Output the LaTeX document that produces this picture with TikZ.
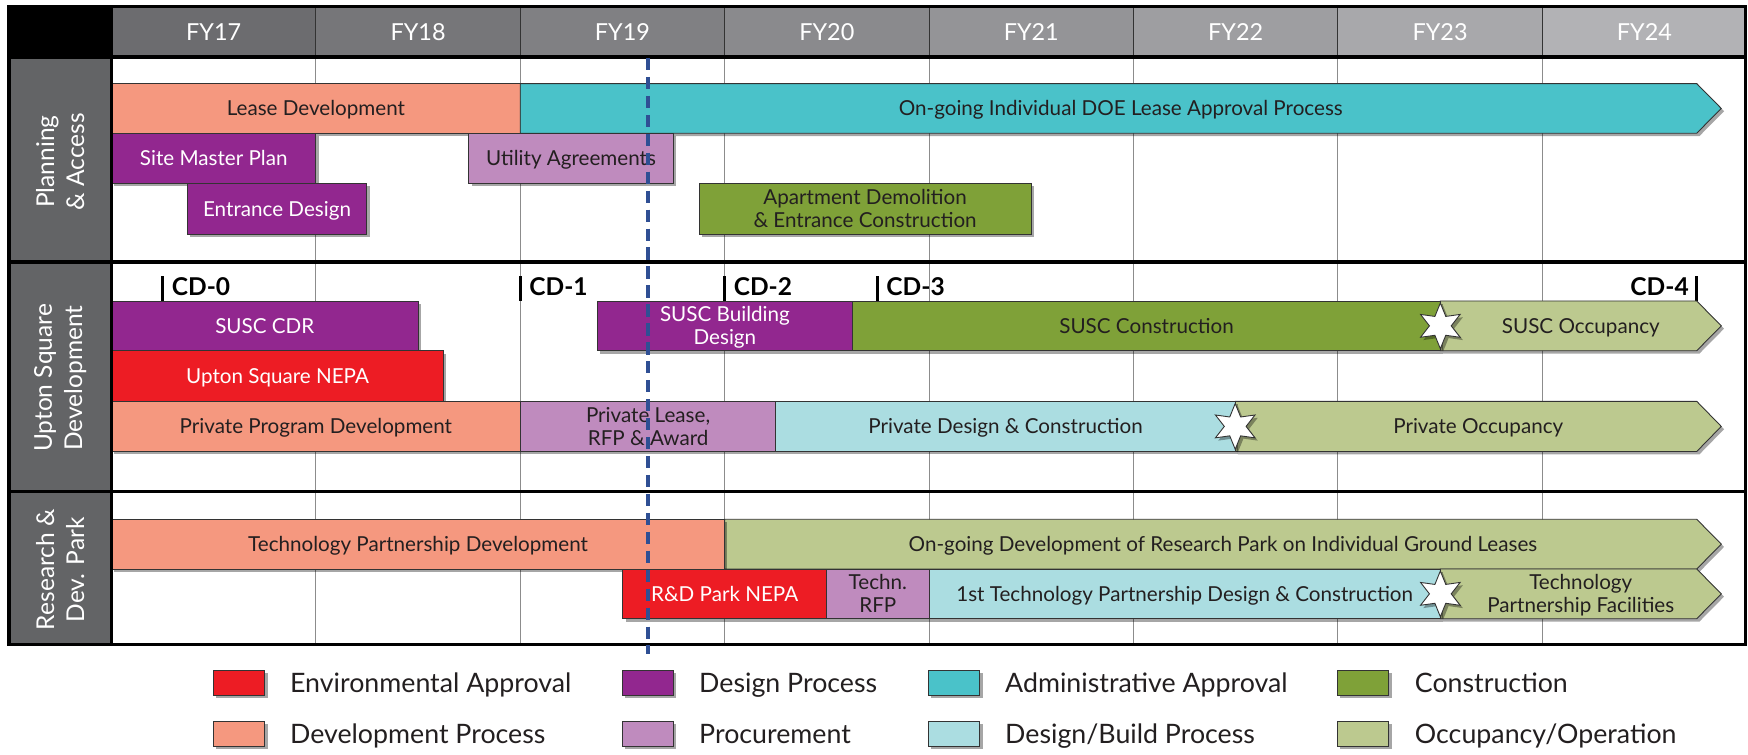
\documentclass[tikz,border=0pt]{standalone}
\usepackage{fontspec}
\setmainfont{Lato}
\usetikzlibrary{shapes.geometric,shadows}
\definecolor{cRed}{HTML}{ED1C24}
\definecolor{cPur}{HTML}{92278F}
\definecolor{cCyan}{HTML}{4AC2C9}
\definecolor{cGreen}{HTML}{7FA138}
\definecolor{cSalm}{HTML}{F5987F}
\definecolor{cLPur}{HTML}{BF8BBE}
\definecolor{cLCyan}{HTML}{ABDDE1}
\definecolor{cOlive}{HTML}{BCC98F}
\definecolor{cLab}{HTML}{636466}
\definecolor{cTxt}{HTML}{231F20}
\definecolor{cDash}{HTML}{2F4F94}
\definecolor{cGrid}{HTML}{8C8C8C}
\newcommand{\capc}[1]{\smash{#1}\vphantom{X}}
\tikzset{
  barshadow/.style={drop shadow={shadow xshift=2.5pt, shadow yshift=-2.5pt, opacity=0.35, fill=black}},
  bartext/.style={inner sep=0pt, align=center, font=\fontsize{18.5}{20.5}\selectfont},
  barbox/.style={draw=black!80, line width=0.8pt, inner sep=0pt, outer sep=0pt, barshadow, bartext},
  hdrcell/.style={draw=black!80, line width=0.8pt, minimum width=183.35pt, minimum height=45pt, inner sep=0pt, text=white, font=\fontsize{21}{23}\selectfont},
  seclabel/.style={rotate=90, text=white, align=center, font=\fontsize{22}{27}\selectfont},
  cdlabel/.style={inner sep=0pt, font=\fontsize{22}{24}\selectfont\bfseries},
  cdtick/.style={line width=2.8pt, black},
  startag/.style={star, star points=6, star point ratio=2.1, minimum size=41pt, inner sep=0pt, fill=white, draw=black!80, line width=0.8pt, barshadow},
  swatch/.style={draw=black!80, line width=0.8pt, minimum width=46pt, minimum height=23pt, inner sep=0pt, barshadow},
  legtext/.style={anchor=west, inner sep=0pt, font=\fontsize{24}{26}\selectfont, text=cTxt},
  frameline/.style={line width=3pt, black},
}
\newcommand{\gbox}[8]{%
  \node[barbox, fill=#6, text=#7, minimum width={(#3)-(#2)}, minimum height={(#5)-(#4)}] (#1) at ({((#2)+(#3))/2},{((#4)+(#5))/2}) {#8};}
\newcommand{\garr}[7]{%
  \fill[#5, draw=black!80, line width=0.8pt, barshadow] (#2,#3) -- (1522,#3) -- (1544,{((#3)+(#4))/2}) -- (1522,#4) -- (#2,#4) -- cycle;
  \node[bartext, text=#6] (#1) at ({((#2)+1544)/2},{((#3)+(#4))/2}) {#7};}
\begin{document}
\begin{tikzpicture}[x=1pt, y=-1pt]
\useasboundingbox (0,0) rectangle (1568,677);
% grid lines
\foreach \i in {1,...,7} {
  \draw[cGrid, line width=0.7pt] ({100+183.35*\i},51) -- ({100+183.35*\i},578);
}
% header
\fill[black] (8,6) rectangle (100,51);
\foreach \i/\lab in {0/FY17,1/FY18,2/FY19,3/FY20,4/FY21,5/FY22,6/FY23,7/FY24} {
  \pgfmathtruncatemacro{\v}{108+\i*10}
  \pgfmathtruncatemacro{\w}{111+\i*10}
  \node[hdrcell, fill={rgb,255:red,\v;green,\v;blue,\w}] (h\i) at ({100+183.35*\i+91.675},28.5) {\capc{\lab}};
}
% section labels
\fill[cLab] (8,51) rectangle (100,235);
\fill[cLab] (8,235) rectangle (100,441);
\fill[cLab] (8,441) rectangle (100,578);
\node[seclabel] (labP) at (54,145) {Planning\\\& Access};
\node[seclabel] (labU) at (54,339) {Upton Square\\Development};
\node[seclabel] (labR) at (54,511) {Research \&\\Dev. Park};
% Planning & Access
\gbox{leasedev}{100}{466.7}{75}{119.5}{cSalm}{cTxt}{\capc{Lease Development}}
\garr{doe}{466.7}{75}{119.5}{cCyan}{cTxt}{\capc{On-going Individual DOE Lease Approval Process}}
\gbox{smp}{100}{283.4}{119.5}{164.5}{cPur}{white}{\capc{Site Master Plan}}
\gbox{util}{420.5}{604}{119.5}{164.5}{cLPur}{cTxt}{\capc{Utility Agreements}}
\gbox{entr}{168}{329}{164.5}{210}{cPur}{white}{\capc{Entrance Design}}
\gbox{apt}{627}{925}{164.5}{210}{cGreen}{cTxt}{\capc{Apartment Demolition}\\\capc{\& Entrance Construction}}
% Upton Square Development
\coordinate (t0a) at (146,248); \coordinate (t0b) at (146,270);
\coordinate (t1a) at (466.7,248); \coordinate (t1b) at (466.7,270);
\coordinate (t2a) at (650,248); \coordinate (t2b) at (650,270);
\coordinate (t3a) at (787,248); \coordinate (t3b) at (787,270);
\coordinate (t4a) at (1522,248); \coordinate (t4b) at (1522,270);
\draw[cdtick] (t0a) -- (t0b);
\draw[cdtick] (t1a) -- (t1b);
\draw[cdtick] (t2a) -- (t2b);
\draw[cdtick] (t3a) -- (t3b);
\draw[cdtick] (t4a) -- (t4b);
\node[cdlabel, anchor=west] (cd0) at (154,257) {\capc{CD-0}};
\node[cdlabel, anchor=west] (cd1) at (474.7,257) {\capc{CD-1}};
\node[cdlabel, anchor=west] (cd2) at (658,257) {\capc{CD-2}};
\node[cdlabel, anchor=west] (cd3) at (795,257) {\capc{CD-3}};
\node[cdlabel, anchor=east] (cd4) at (1515,257) {\capc{CD-4}};
\gbox{susccdr}{100}{375}{270}{314.6}{cPur}{white}{\capc{SUSC CDR}}
\gbox{suscbd}{535.5}{765}{270}{314.6}{cPur}{white}{\capc{SUSC Building}\\\capc{Design}}
\garr{suscocc}{1292}{270}{314.6}{cOlive}{cTxt}{\capc{SUSC Occupancy}}
\gbox{suscc}{765}{1292}{270}{314.6}{cGreen}{cTxt}{\capc{SUSC Construction}}
\gbox{nepa}{100}{398}{314.6}{360}{cRed}{white}{\capc{Upton Square NEPA}}
\gbox{ppd}{100}{466.7}{360}{405}{cSalm}{cTxt}{\capc{Private Program Development}}
\gbox{plra}{466.7}{696}{360}{405}{cLPur}{cTxt}{\capc{Private Lease,}\\\capc{RFP \& Award}}
\garr{pocc}{1108}{360}{405}{cOlive}{cTxt}{\capc{Private Occupancy}}
\gbox{pdc}{696}{1108}{360}{405}{cLCyan}{cTxt}{\capc{Private Design \& Construction}}
\node[startag] (star1) at (1292,292.3) {};
\node[startag] (star2) at (1108,382.5) {};
% Research & Dev. Park
\garr{ogd}{650}{465.8}{510.4}{cOlive}{cTxt}{\capc{On-going Development of Research Park on Individual Ground Leases}}
\gbox{tpd}{100}{650}{465.8}{510.4}{cSalm}{cTxt}{\capc{Technology Partnership Development}}
\gbox{rdnepa}{558.6}{741.5}{510.4}{555}{cRed}{white}{\capc{R\&D Park NEPA}}
\gbox{trfp}{741.5}{833.4}{510.4}{555}{cLPur}{cTxt}{\capc{Techn.}\\\capc{RFP}}
\garr{tpf}{1292}{510.4}{555}{cOlive}{cTxt}{\capc{Technology}\\\capc{Partnership Facilities}}
\gbox{tpdc}{833.4}{1292}{510.4}{555}{cLCyan}{cTxt}{\capc{1st Technology Partnership Design \& Construction}}
\node[startag] (star3) at (1292,532.7) {};
% section lines and frame
\draw[frameline] (8,51) -- (1566,51);
\draw[frameline] (8,235) -- (1566,235);
\draw[frameline] (8,441) -- (1566,441);
\draw[frameline] (100,6) -- (100,578);
\draw[frameline] (8,6) rectangle (1566,578);
% today line
\coordinate (dtop) at (581,52);
\coordinate (dbot) at (581,587);
\draw[cDash, line width=3.4pt, dash pattern=on 11pt off 6pt] (dtop) -- (dbot);
% legend
\node[swatch, fill=cRed] (lg1) at (214.5,612.5) {};
\node[legtext] (lt1) at (260,612.5) {\capc{Environmental Approval}};
\node[swatch, fill=cPur] (lg2) at (581.3,612.5) {};
\node[legtext] (lt2) at (627,612.5) {\capc{Design Process}};
\node[swatch, fill=cCyan] (lg3) at (856,612.5) {};
\node[legtext] (lt3) at (901.5,612.5) {\capc{Administrative Approval}};
\node[swatch, fill=cGreen] (lg4) at (1222.8,612.5) {};
\node[legtext] (lt4) at (1269,612.5) {\capc{Construction}};
\node[swatch, fill=cSalm] (lg5) at (214.5,658.2) {};
\node[legtext] (lt5) at (260,658.2) {\capc{Development Process}};
\node[swatch, fill=cLPur] (lg6) at (581.3,658.2) {};
\node[legtext] (lt6) at (627,658.2) {\capc{Procurement}};
\node[swatch, fill=cLCyan] (lg7) at (856,658.2) {};
\node[legtext] (lt7) at (901.5,658.2) {\capc{Design/Build Process}};
\node[swatch, fill=cOlive] (lg8) at (1222.8,658.2) {};
\node[legtext] (lt8) at (1269,658.2) {\capc{Occupancy/Operation}};
\end{tikzpicture}
\end{document}
